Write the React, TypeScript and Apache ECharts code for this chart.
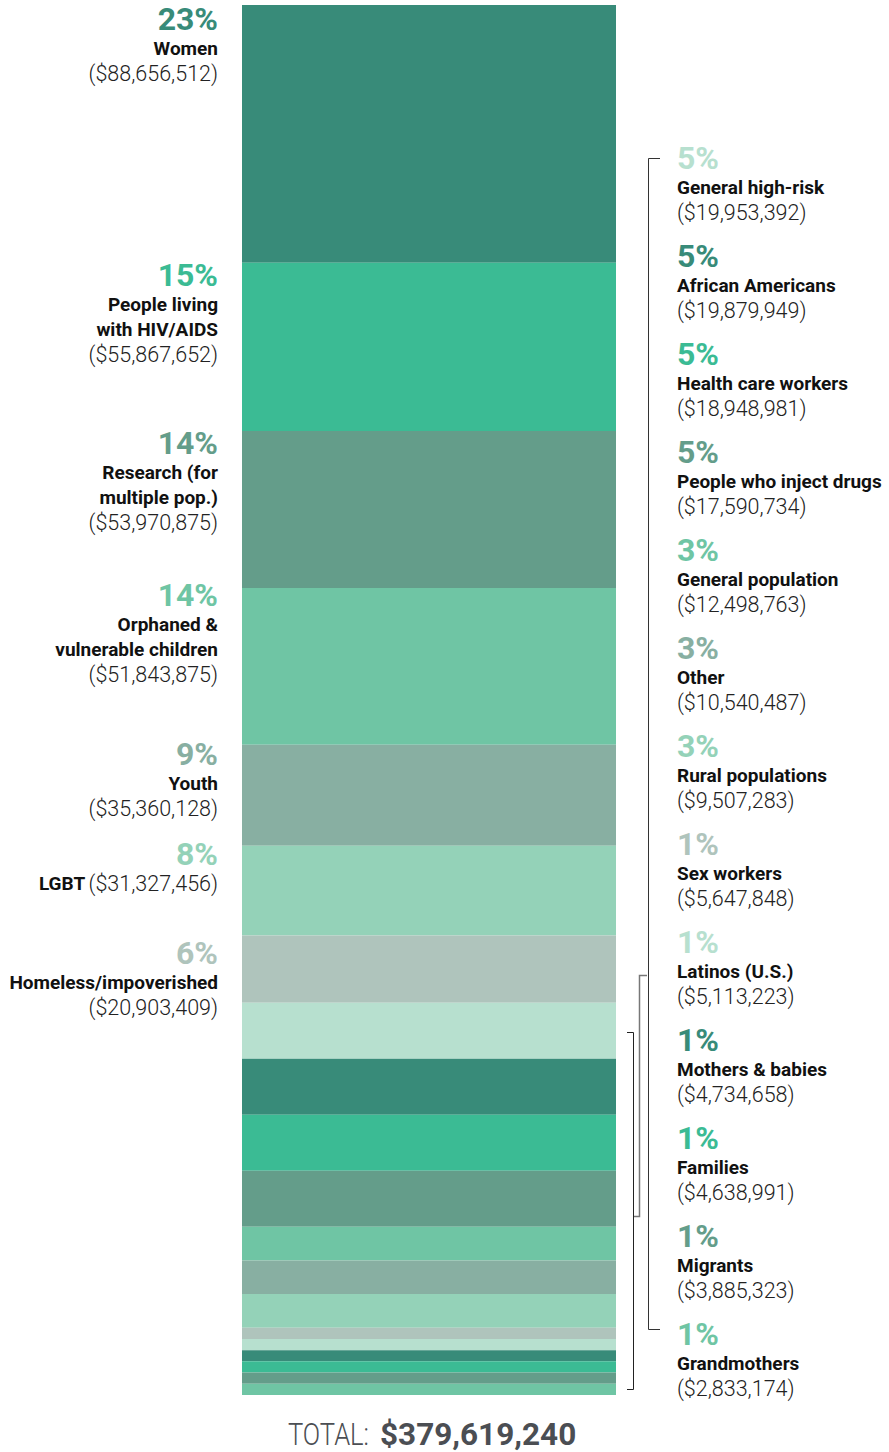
import React, { useEffect, useRef } from 'react';
import * as echarts from 'echarts';

const categories = [
  'Women',
  'People living\nwith HIV/AIDS',
  'Research (for\nmultiple pop.)',
  'Orphaned &\nvulnerable children',
  'Youth',
  'LGBT',
  'Homeless/impoverished',
  'General high-risk',
  'African Americans',
  'Health care workers',
  'People who inject drugs',
  'General population',
  'Other',
  'Rural populations',
  'Sex workers',
  'Latinos (U.S.)',
  'Mothers & babies',
  'Families',
  'Migrants',
  'Grandmothers',
];
const percents = [23, 15, 14, 14, 9, 8, 6, 5, 5, 5, 5, 3, 3, 3, 1, 1, 1, 1, 1, 1];
const amounts = [
  88656512, 55867652, 53970875, 51843875, 35360128, 31327456, 20903409, 19953392,
  19879949, 18948981, 17590734, 12498763, 10540487, 9507283, 5647848, 5113223,
  4734658, 4638991, 3885323, 2833174,
];
const totalAmount = 379619240;
const palette = ['#388B79', '#3BBB94', '#649D8A', '#6FC5A4', '#88AFA2', '#94D2B8', '#AFC4BC', '#B7E0CF'];
const inlineAmount = [false, false, false, false, false, true, false];
const leftCount = 7;
// layout nudges for left labels (px, relative to segment top)
const leftLabelDy = [-3, -5, -5, -10, -7.5, -9, 1];

const FONT = 'Roboto, "Noto Sans", sans-serif';
const fmt = (v: number) => '($' + v.toLocaleString('en-US') + ')';

export default function App() {
  const ref = useRef<HTMLDivElement>(null);
  useEffect(() => {
    document.body.style.margin = '0';
    document.body.style.overflow = 'hidden';
    const chart = echarts.init(ref.current!, null, { renderer: 'svg' });
    const total = percents.reduce((a, b) => a + b, 0);

    const styles = (color: string) => ({
      p: { fontFamily: FONT, fontWeight: 700, fontSize: 32, lineHeight: 34, color },
      n: { fontFamily: FONT, fontWeight: 700, fontSize: 19, lineHeight: 25, color: '#111' },
      a: { fontFamily: FONT, fontWeight: 300, fontSize: 21.5, lineHeight: 25, color: '#222' },
    });
    const labelRich = (color: string) => styles(color);
    const graphicRich = (color: string) => {
      const s: any = styles(color);
      const out: any = {};
      Object.keys(s).forEach((k) => {
        const { color: c, ...rest } = s[k];
        out[k] = { ...rest, fill: c };
      });
      return out;
    };

    const buildText = (i: number) => {
      const nameLines = categories[i].split('\n').map((l) => `{n|${l}}`);
      if (inlineAmount[i]) {
        return `{p|${percents[i]}%}\n${nameLines.join('\n')} {a|${fmt(amounts[i])}}`;
      }
      return `{p|${percents[i]}%}\n${nameLines.join('\n')}\n{a|${fmt(amounts[i])}}`;
    };

    const series = percents.map((v, i) => ({
      type: 'bar',
      name: categories[i],
      stack: 'all',
      data: [v],
      barWidth: 374,
      silent: true,
      itemStyle: { color: palette[i % palette.length] },
      label:
        i < leftCount
          ? {
              show: true,
              position: [-24, leftLabelDy[i]],
              align: 'right',
              verticalAlign: 'top',
              formatter: buildText(i),
              rich: labelRich(palette[i % palette.length]),
            }
          : { show: false },
    }));

    const rightLabels: any[] = [];
    for (let i = leftCount; i < categories.length; i++) {
      const j = i - leftCount;
      rightLabels.push({
        type: 'text',
        x: 677,
        y: 140.5 + 98 * j,
        silent: true,
        style: {
          text: buildText(i),
          align: 'left',
          verticalAlign: 'top',
          rich: graphicRich(palette[i % palette.length]),
        },
      });
    }

    const brackets = [
      { pts: [[660, 158.5], [648.5, 158.5], [648.5, 1329.5], [660, 1329.5]], color: '#333', w: 1 },
      { pts: [[647, 975.5], [639.5, 975.5], [639.5, 1216.5], [633, 1216.5]], color: '#777', w: 1.5 },
      { pts: [[627, 1032.5], [633.5, 1032.5], [633.5, 1389.5], [627, 1389.5]], color: '#222', w: 1 },
    ].map((b) => ({
      type: 'polyline',
      silent: true,
      shape: { points: b.pts },
      style: { stroke: b.color, lineWidth: b.w, fill: 'none' },
    }));

    chart.setOption({
      animation: false,
      grid: { left: 242, top: 5, width: 374, height: 1390 },
      xAxis: { type: 'category', data: ['all'], show: false },
      yAxis: { type: 'value', inverse: true, min: 0, max: total, show: false },
      series,
      graphic: [
        ...rightLabels,
        ...brackets,
        {
          type: 'text',
          x: 369,
          y: 1434,
          scaleX: 0.8,
          silent: true,
          style: {
            text: 'TOTAL:',
            align: 'right',
            verticalAlign: 'middle',
            fontFamily: FONT,
            fontWeight: 300,
            fontSize: 32,
            fill: '#4B4E53',
          },
        },
        {
          type: 'text',
          x: 380,
          y: 1434,
          silent: true,
          style: {
            text: '$' + totalAmount.toLocaleString('en-US'),
            align: 'left',
            verticalAlign: 'middle',
            fontFamily: FONT,
            fontWeight: 700,
            fontSize: 31.5,
            fill: '#4B4E53',
          },
        },
      ],
    });
    return () => chart.dispose();
  }, []);
  return <div ref={ref} style={{ width: 889, height: 1452 }} />;
}
